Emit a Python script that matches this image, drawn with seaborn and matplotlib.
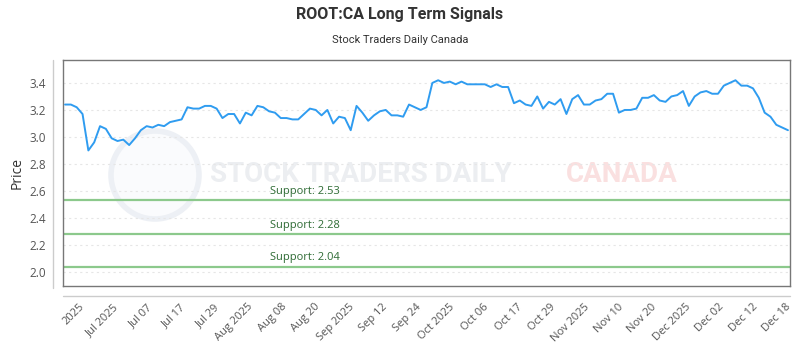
import numpy as np
import pandas as pd
import matplotlib
matplotlib.use("Agg")
import matplotlib.pyplot as plt
from matplotlib.lines import Line2D
from matplotlib.patches import Ellipse
import seaborn as sns

title = "ROOT:CA Long Term Signals"
subtitle = "Stock Traders Daily Canada"

prices = [
    3.24, 3.24, 3.22, 3.17, 2.90, 2.96, 3.08, 3.06, 2.99, 2.97, 2.98, 2.94, 2.99,
    3.05, 3.08, 3.07, 3.09, 3.08, 3.11, 3.12, 3.13, 3.22, 3.21, 3.21, 3.23, 3.23,
    3.21, 3.14, 3.17, 3.17, 3.10, 3.18, 3.16,
    3.23, 3.22, 3.19, 3.18, 3.14, 3.14, 3.13, 3.13, 3.17, 3.21, 3.20, 3.16, 3.20,
    3.10, 3.15, 3.14, 3.05, 3.23, 3.18, 3.12, 3.16, 3.19, 3.20, 3.16, 3.16, 3.15,
    3.24, 3.22, 3.20, 3.22,
    3.40, 3.42, 3.40, 3.41, 3.39, 3.41, 3.39, 3.39, 3.39, 3.39, 3.37, 3.39, 3.37,
    3.37, 3.25, 3.27, 3.24, 3.23, 3.30, 3.21, 3.26, 3.24, 3.28, 3.17, 3.28, 3.31,
    3.24, 3.24, 3.27, 3.28, 3.32, 3.32, 3.18,
    3.20, 3.20, 3.21, 3.29, 3.29, 3.31, 3.27, 3.26, 3.30, 3.31, 3.34, 3.23, 3.30,
    3.33, 3.34, 3.32, 3.32, 3.38, 3.40, 3.42, 3.38, 3.38, 3.36, 3.29, 3.18, 3.15,
    3.09, 3.07, 3.05,
]

tick_labels = ["2025", "Jul 2025", "Jul 07", "Jul 17", "Jul 29", "Aug 2025",
               "Aug 08", "Aug 20", "Sep 2025", "Sep 12", "Sep 24", "Oct 2025",
               "Oct 06", "Oct 17", "Oct 29", "Nov 2025", "Nov 10", "Nov 20",
               "Dec 2025", "Dec 02", "Dec 12", "Dec 18"]

support_levels = [2.53, 2.28, 2.04]
y_ticks = [2.0, 2.2, 2.4, 2.6, 2.8, 3.0, 3.2, 3.4]

sns.set_style("white")
plt.rcParams["font.family"] = ["Open Sans", "DejaVu Sans"]

df = pd.DataFrame({"idx": np.arange(len(prices)), "price": prices})

fig = plt.figure(figsize=(8, 3.5), dpi=100)
ax = fig.add_axes([63 / 800, 1 - 286 / 350, 727 / 800, 226 / 350])

# watermark
ax.text(0.41, 0.495, "STOCK TRADERS DAILY", transform=ax.transAxes,
        ha="center", va="center", fontsize=20, color="#eceef1",
        family="Roboto", fontweight="bold", zorder=0)
ax.text(0.769, 0.495, "CANADA", transform=ax.transAxes,
        ha="center", va="center", fontsize=20, color="#fae0e0",
        family="Roboto", fontweight="bold", zorder=0)
logo = Ellipse((155 / 800, 1 - 175 / 350), 88 / 800, 88 / 350,
               transform=fig.transFigure, facecolor="#fafbfd",
               edgecolor="#edf0f5", linewidth=4, zorder=0.5)
ax.add_patch(logo)

sns.lineplot(data=df, x="idx", y="price", ax=ax, color="#2f9cf0",
             linewidth=1.4, zorder=3)

for s in support_levels:
    ax.axhline(s, color="#8cc98c", linewidth=1.6, zorder=2)
    ax.text(0.285, s + 0.025, f"Support: {s:.2f}",
            transform=ax.get_yaxis_transform(), color="#2e6b34",
            fontsize=8, ha="left", va="bottom", zorder=4)

ax.set_xlim(-0.35, len(prices) - 1 + 0.35)
ax.set_ylim(1.896, 3.57)
ax.set_yticks(y_ticks)
ax.set_yticklabels([f"{v:.1f}" for v in y_ticks])
ax.yaxis.grid(True, linestyle=(0, (2, 3)), color="#e6e6e6", linewidth=0.8)
ax.xaxis.grid(False)
ax.set_axisbelow(True)

tick_pos = np.linspace(3.1, len(prices) - 1 + 0.3, len(tick_labels))
ax.set_xticks(tick_pos)
ax.set_xticklabels(tick_labels, rotation=45, ha="right",
                   rotation_mode="anchor", va="center")
ax.tick_params(axis="x", length=0, pad=14, labelsize=8, labelcolor="#555555")
ax.tick_params(axis="y", length=0, pad=12, labelsize=8.5, labelcolor="#555555")
ax.set_xlabel("")
ax.set_ylabel("Price", fontsize=10, color="#333333", labelpad=4)

for sp in ax.spines.values():
    sp.set_visible(True)
    sp.set_color("#777777")
    sp.set_linewidth(1.0)

fig.lines.append(Line2D([53 / 800, 53 / 800], [1 - 60 / 350, 1 - 288 / 350],
                        transform=fig.transFigure, color="#cccccc", linewidth=1))
fig.lines.append(Line2D([63 / 800, 790 / 800], [1 - 296 / 350, 1 - 296 / 350],
                        transform=fig.transFigure, color="#cccccc", linewidth=1))

fig.text(0.5, 1 - 15 / 350, title, ha="center", va="center", fontsize=11.5,
         fontweight="bold", color="#333333", family="Roboto")
fig.text(0.5, 1 - 40 / 350, subtitle, ha="center", va="center", fontsize=8,
         color="#333333", family="Roboto")

fig.savefig("out.png", dpi=100)
